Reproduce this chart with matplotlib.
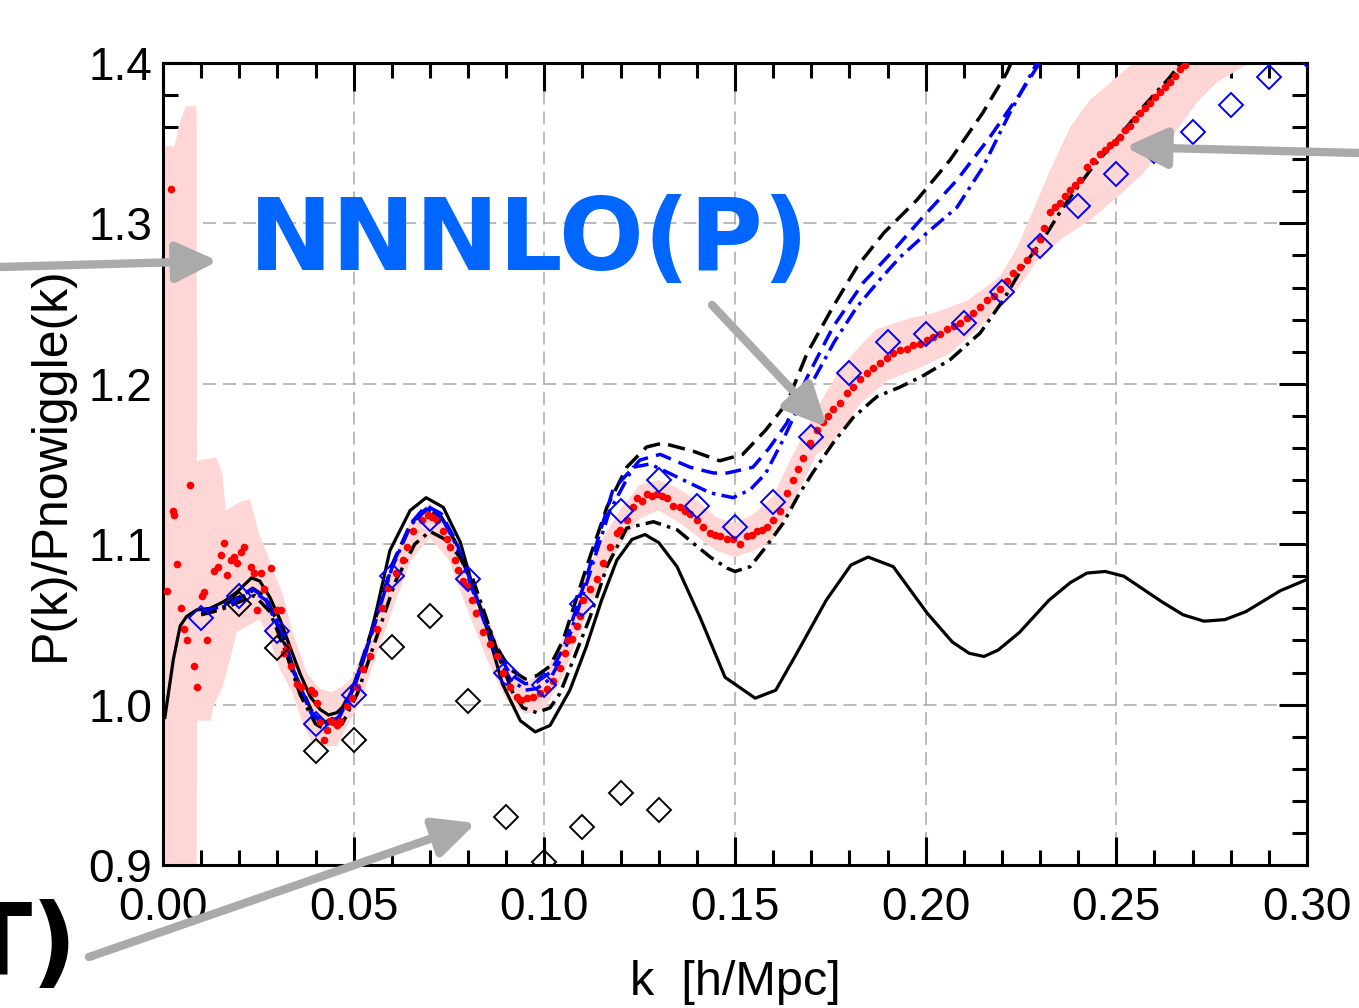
import numpy as np
import matplotlib
matplotlib.use("Agg")
import matplotlib.pyplot as plt
from matplotlib.patches import FancyArrowPatch

# ---- data (k [h/Mpc], P/Pnowiggle) ----
# linear theory (black solid)
linear = np.array([
    [0.0005, 0.992], [0.0027, 1.028], [0.0045, 1.049], [0.0062, 1.055], [0.0088, 1.059],
    [0.0123, 1.060], [0.0158, 1.064], [0.0193, 1.070], [0.0232, 1.079], [0.0254, 1.077],
    [0.0280, 1.067], [0.0307, 1.053], [0.0333, 1.036], [0.0359, 1.0195], [0.0386, 1.005],
    [0.0412, 0.997], [0.0434, 0.9935], [0.0456, 0.995], [0.0482, 1.001], [0.0508, 1.015],
    [0.0534, 1.034], [0.0560, 1.059], [0.0595, 1.096], [0.0648, 1.121], [0.0690, 1.129],
    [0.0735, 1.123], [0.0780, 1.101], [0.0813, 1.073], [0.0840, 1.055], [0.0890, 1.013],
    [0.0937, 0.990], [0.0976, 0.983], [0.1015, 0.987], [0.1067, 1.009], [0.1110, 1.036],
    [0.1150, 1.065], [0.1190, 1.090], [0.1230, 1.103], [0.1264, 1.106], [0.1300, 1.101],
    [0.1348, 1.086], [0.1408, 1.0546], [0.1474, 1.017], [0.1553, 1.004], [0.1607, 1.009],
    [0.1662, 1.032], [0.1739, 1.065], [0.1804, 1.087], [0.1849, 1.092], [0.1915, 1.086],
    [0.2004, 1.057], [0.2070, 1.039], [0.2114, 1.032], [0.2153, 1.030], [0.2190, 1.034],
    [0.2246, 1.045], [0.2323, 1.065], [0.2379, 1.076], [0.2423, 1.082], [0.2471, 1.083],
    [0.2520, 1.080], [0.2620, 1.064], [0.2675, 1.056], [0.2730, 1.052], [0.2785, 1.053],
    [0.2840, 1.058], [0.2930, 1.071], [0.3000, 1.078]])

# black dashed (upper)
black_dash = np.array([
    [0.010, 1.058], [0.015, 1.061], [0.020, 1.067], [0.0235, 1.0725], [0.027, 1.067],
    [0.031, 1.046], [0.035, 1.017], [0.039, 0.996], [0.0425, 0.989], [0.046, 0.993],
    [0.050, 1.012], [0.055, 1.048], [0.060, 1.087], [0.065, 1.113], [0.069, 1.122],
    [0.073, 1.117], [0.077, 1.100], [0.082, 1.068], [0.087, 1.038], [0.091, 1.022],
    [0.095, 1.016], [0.098, 1.018], [0.1015, 1.024], [0.1049, 1.040], [0.1111, 1.086],
    [0.1164, 1.123], [0.1216, 1.148], [0.1268, 1.1606], [0.131, 1.163], [0.139, 1.158],
    [0.146, 1.152], [0.152, 1.156], [0.158, 1.171], [0.1636, 1.188], [0.1689, 1.219],
    [0.1757, 1.248], [0.182, 1.273], [0.189, 1.294], [0.1977, 1.3146], [0.2064, 1.3395],
    [0.215, 1.369], [0.2213, 1.394], [0.226, 1.420]])

# blue dashed
blue_dash = np.array([
    [0.010, 1.058], [0.015, 1.061], [0.020, 1.067], [0.0235, 1.072], [0.027, 1.066],
    [0.031, 1.045], [0.035, 1.016], [0.039, 0.995], [0.0425, 0.988], [0.046, 0.992],
    [0.050, 1.011], [0.055, 1.047], [0.060, 1.086], [0.065, 1.113], [0.069, 1.124],
    [0.073, 1.119], [0.077, 1.101], [0.082, 1.068], [0.087, 1.036], [0.091, 1.019],
    [0.095, 1.013], [0.098, 1.014], [0.1015, 1.020], [0.105, 1.035], [0.1111, 1.080],
    [0.118, 1.134], [0.1251, 1.1525], [0.1304, 1.156], [0.1382, 1.148], [0.1443, 1.1444],
    [0.148, 1.1444], [0.1547, 1.148], [0.159, 1.160], [0.1636, 1.1756], [0.1689, 1.204],
    [0.1757, 1.2354], [0.1836, 1.263], [0.1915, 1.283], [0.1993, 1.304], [0.2082, 1.327],
    [0.2169, 1.354], [0.2248, 1.381], [0.2292, 1.3975], [0.232, 1.410]])

# blue dash-dot
blue_dashdot = np.array([
    [0.010, 1.057], [0.015, 1.060], [0.020, 1.066], [0.0235, 1.071], [0.027, 1.065],
    [0.031, 1.044], [0.035, 1.015], [0.039, 0.994], [0.0425, 0.987], [0.046, 0.991],
    [0.050, 1.010], [0.055, 1.046], [0.060, 1.085], [0.065, 1.112], [0.069, 1.122],
    [0.073, 1.117], [0.077, 1.099], [0.082, 1.066], [0.087, 1.034], [0.091, 1.016],
    [0.095, 1.009], [0.098, 1.010], [0.1015, 1.016], [0.105, 1.031], [0.111, 1.075],
    [0.117, 1.120], [0.1233, 1.148], [0.1277, 1.150], [0.133, 1.144], [0.1382, 1.138],
    [0.1435, 1.132], [0.1495, 1.129], [0.154, 1.134], [0.158, 1.144], [0.1626, 1.165],
    [0.1663, 1.184], [0.1705, 1.202], [0.1760, 1.226], [0.1820, 1.248], [0.1880, 1.265],
    [0.1933, 1.279], [0.2003, 1.294], [0.2082, 1.310], [0.215, 1.335], [0.2221, 1.369],
    [0.2282, 1.3956], [0.231, 1.410]])

# black dash-dot (lower)
black_dashdot = np.array([
    [0.010, 1.056], [0.015, 1.059], [0.020, 1.064], [0.024, 1.068], [0.028, 1.058],
    [0.032, 1.034], [0.036, 1.006], [0.040, 0.988], [0.0435, 0.983], [0.047, 0.988],
    [0.051, 1.007], [0.056, 1.042], [0.061, 1.077], [0.066, 1.100], [0.070, 1.108],
    [0.074, 1.103], [0.0775, 1.093], [0.0813, 1.078], [0.0849, 1.053], [0.0884, 1.028],
    [0.0918, 1.007], [0.0944, 0.998], [0.098, 0.995], [0.1015, 0.998], [0.1041, 1.007],
    [0.1076, 1.028], [0.112, 1.0546], [0.1164, 1.086], [0.1216, 1.110], [0.1286, 1.114],
    [0.1348, 1.109], [0.139, 1.1007], [0.1435, 1.092], [0.148, 1.085], [0.150, 1.083],
    [0.154, 1.086], [0.158, 1.098], [0.1626, 1.113], [0.1665, 1.130], [0.1705, 1.145],
    [0.1757, 1.163], [0.181, 1.179], [0.1872, 1.192], [0.1933, 1.198], [0.1993, 1.205],
    [0.2064, 1.215], [0.2143, 1.2317], [0.2203, 1.252], [0.2255, 1.273], [0.2308, 1.290],
    [0.236, 1.310], [0.2431, 1.333], [0.250, 1.352], [0.257, 1.3726], [0.264, 1.391],
    [0.2675, 1.402], [0.272, 1.420]])

# simulation points (red dots)
sim = np.array([
    [0.0011, 1.071], [0.0020, 1.3216], [0.0027, 1.121], [0.0029, 1.1185], [0.0037, 1.0877],
    [0.0046, 1.060], [0.0055, 1.047], [0.0064, 1.040], [0.0072, 1.137], [0.0081, 1.024],
    [0.0090, 1.011], [0.0101, 1.068], [0.0108, 1.070], [0.0116, 1.040], [0.0134, 1.083],
    [0.0143, 1.086], [0.0151, 1.093], [0.0160, 1.101], [0.0169, 1.081], [0.0178, 1.090],
    [0.0186, 1.092], [0.0195, 1.088], [0.0204, 1.095], [0.0212, 1.098], [0.0230, 1.086],
    [0.0238, 1.082], [0.0247, 1.059], [0.0256, 1.082], [0.0265, 1.072], [0.0282, 1.085],
    [0.0300, 1.059], [0.0309, 1.059], [0.0317, 1.032], [0.0325, 1.036], [0.0335, 1.024],
    [0.0352, 1.013], [0.0361, 1.011], [0.0387, 1.009], [0.0396, 1.007], [0.0405, 1.001],
    [0.0412, 0.989], [0.0422, 0.978], [0.0430, 0.984], [0.0438, 0.990], [0.0446, 0.989],
    [0.0455, 0.987], [0.0464, 0.990], [0.0482, 0.999], [0.0495, 1.004], [0.0508, 1.011],
    [0.0525, 1.022], [0.0543, 1.030], [0.0560, 1.047], [0.0575, 1.060], [0.0590, 1.073],
    [0.0610, 1.082], [0.0630, 1.090], [0.0640, 1.098], [0.0656, 1.108], [0.0680, 1.115],
    [0.0695, 1.118], [0.0705, 1.117], [0.0718, 1.115], [0.0735, 1.108], [0.0744, 1.103],
    [0.0753, 1.098], [0.0765, 1.090], [0.0774, 1.084], [0.0787, 1.077], [0.0796, 1.074],
    [0.0810, 1.065], [0.0822, 1.057], [0.0840, 1.045], [0.0858, 1.038], [0.0875, 1.030],
    [0.0892, 1.020], [0.0910, 1.011], [0.0928, 1.005], [0.0940, 1.003], [0.0954, 1.004],
    [0.0970, 1.005], [0.0989, 1.007], [0.1006, 1.010], [0.1023, 1.015], [0.1041, 1.023],
    [0.1054, 1.032], [0.1063, 1.040], [0.1072, 1.041], [0.1085, 1.049], [0.1094, 1.055],
    [0.1102, 1.065], [0.1120, 1.072], [0.1137, 1.078], [0.1154, 1.088], [0.1172, 1.098],
    [0.1190, 1.107], [0.1199, 1.109], [0.1216, 1.115], [0.1233, 1.123], [0.1242, 1.129],
    [0.1255, 1.127], [0.1268, 1.131], [0.1282, 1.130], [0.1295, 1.131], [0.1308, 1.130],
    [0.1321, 1.129], [0.1338, 1.124], [0.1356, 1.123], [0.1370, 1.121], [0.1382, 1.119],
    [0.1400, 1.115], [0.1416, 1.111], [0.1435, 1.107], [0.1448, 1.106], [0.1460, 1.105],
    [0.1478, 1.103], [0.1495, 1.103], [0.1513, 1.100], [0.1531, 1.105], [0.1545, 1.106],
    [0.1557, 1.108], [0.1570, 1.109], [0.1583, 1.111], [0.1600, 1.115], [0.1618, 1.121],
    [0.1636, 1.132], [0.1653, 1.140], [0.1665, 1.147], [0.1679, 1.154], [0.1697, 1.163],
    [0.1714, 1.171], [0.1731, 1.176], [0.1745, 1.180], [0.1757, 1.184], [0.1775, 1.188],
    [0.1793, 1.194], [0.1810, 1.198], [0.1828, 1.203], [0.1846, 1.207], [0.1863, 1.210],
    [0.1880, 1.213], [0.1898, 1.216], [0.1915, 1.219], [0.1933, 1.221], [0.1950, 1.222],
    [0.1968, 1.224], [0.1985, 1.225], [0.2003, 1.227], [0.2020, 1.229], [0.2038, 1.231],
    [0.2056, 1.234], [0.2073, 1.236], [0.2090, 1.238], [0.2108, 1.241], [0.2125, 1.244],
    [0.2143, 1.248], [0.2160, 1.252], [0.2178, 1.255], [0.2195, 1.259], [0.2213, 1.264],
    [0.2230, 1.269], [0.2248, 1.273], [0.2266, 1.277], [0.2283, 1.283], [0.2300, 1.290],
    [0.2310, 1.297], [0.2326, 1.307], [0.2340, 1.310], [0.2353, 1.313], [0.2366, 1.317],
    [0.2379, 1.321], [0.2392, 1.324], [0.2405, 1.327], [0.2423, 1.335], [0.2440, 1.339],
    [0.2457, 1.343], [0.2470, 1.346], [0.2484, 1.349], [0.2497, 1.351], [0.2510, 1.354],
    [0.2523, 1.358], [0.2536, 1.361], [0.2549, 1.365], [0.2562, 1.369], [0.2575, 1.372],
    [0.2589, 1.375], [0.2602, 1.379], [0.2615, 1.382], [0.2628, 1.385], [0.2640, 1.388],
    [0.2654, 1.392], [0.2667, 1.396], [0.2680, 1.399]])

# simulation error band (pink), upper and lower edges
band_hi = np.array([
    [0.0, 1.348], [0.0030, 1.348], [0.0048, 1.366], [0.0060, 1.373], [0.0088, 1.373],
    [0.0089, 1.152], [0.0140, 1.154], [0.0155, 1.145], [0.0165, 1.121], [0.0200, 1.126],
    [0.0228, 1.128], [0.0254, 1.105], [0.0280, 1.090], [0.0315, 1.068], [0.0340, 1.045],
    [0.0377, 1.020], [0.0410, 1.010], [0.0440, 1.008], [0.0470, 1.011], [0.0500, 1.018],
    [0.0550, 1.052], [0.0600, 1.088], [0.0650, 1.115], [0.0700, 1.126], [0.0750, 1.112],
    [0.0800, 1.085], [0.0850, 1.055], [0.0900, 1.026], [0.0950, 1.014], [0.1000, 1.020],
    [0.1050, 1.042], [0.1100, 1.078], [0.1150, 1.102], [0.1200, 1.122], [0.1250, 1.137],
    [0.1300, 1.140], [0.1350, 1.135], [0.1400, 1.127], [0.1450, 1.117], [0.1500, 1.113],
    [0.1550, 1.119], [0.1600, 1.130], [0.1650, 1.155], [0.1714, 1.184], [0.1757, 1.202],
    [0.1810, 1.219], [0.1870, 1.234], [0.1960, 1.241], [0.2020, 1.244], [0.2110, 1.252],
    [0.2195, 1.267], [0.2240, 1.285], [0.2274, 1.304], [0.2326, 1.333], [0.2379, 1.360],
    [0.2431, 1.377], [0.2500, 1.391], [0.2545, 1.400], [0.2600, 1.415], [0.2700, 1.440],
    [0.2900, 1.480]])
band_lo = np.array([
    [0.0, 0.880], [0.0088, 0.880], [0.0089, 0.990], [0.0125, 0.990], [0.0132, 0.999],
    [0.0155, 1.010], [0.0176, 1.028], [0.0193, 1.045], [0.0237, 1.051], [0.0254, 1.053],
    [0.0280, 1.040], [0.0307, 1.022], [0.0340, 1.007], [0.0367, 0.988], [0.0390, 0.977],
    [0.0430, 0.974], [0.0456, 0.974], [0.0490, 0.990], [0.0520, 1.003], [0.0550, 1.024],
    [0.0600, 1.058], [0.0650, 1.090], [0.0700, 1.104], [0.0750, 1.090], [0.0800, 1.058],
    [0.0850, 1.028], [0.0900, 1.003], [0.0950, 0.994], [0.1000, 0.997], [0.1050, 1.018],
    [0.1100, 1.050], [0.1150, 1.078], [0.1200, 1.100], [0.1250, 1.116], [0.1300, 1.121],
    [0.1350, 1.114], [0.1400, 1.105], [0.1450, 1.096], [0.1500, 1.092], [0.1550, 1.096],
    [0.1600, 1.103], [0.1650, 1.125], [0.1714, 1.156], [0.1757, 1.163], [0.1830, 1.188],
    [0.1900, 1.202], [0.1985, 1.210], [0.2064, 1.219], [0.2150, 1.237], [0.2240, 1.259],
    [0.2300, 1.279], [0.2360, 1.291], [0.2431, 1.302], [0.2500, 1.316], [0.2570, 1.331],
    [0.2640, 1.352], [0.2710, 1.375], [0.2764, 1.388], [0.2850, 1.400], [0.2900, 1.410]])

# open diamonds
blue_dia = np.array([
    [0.01, 1.054], [0.02, 1.068], [0.03, 1.046], [0.04, 0.988], [0.05, 1.006],
    [0.06, 1.080], [0.07, 1.116], [0.08, 1.078], [0.09, 1.020], [0.10, 1.012],
    [0.11, 1.063], [0.12, 1.121], [0.13, 1.140], [0.14, 1.124], [0.15, 1.111],
    [0.16, 1.126], [0.17, 1.167], [0.18, 1.207], [0.19, 1.226], [0.20, 1.231],
    [0.21, 1.238], [0.22, 1.257], [0.23, 1.286], [0.24, 1.311], [0.25, 1.331],
    [0.26, 1.345], [0.27, 1.357], [0.28, 1.374], [0.29, 1.391], [0.30, 1.405]])
black_dia = np.array([
    [0.02, 1.063], [0.03, 1.035], [0.04, 0.971], [0.05, 0.978], [0.06, 1.036],
    [0.07, 1.055], [0.08, 1.002], [0.09, 0.930], [0.10, 0.902], [0.11, 0.924],
    [0.12, 0.945], [0.13, 0.934]])

xticks = [0.00, 0.05, 0.10, 0.15, 0.20, 0.25, 0.30]
xticklabels = ["0.00", "0.05", "0.10", "0.15", "0.20", "0.25", "0.30"]
yticks = [0.9, 1.0, 1.1, 1.2, 1.3, 1.4]
yticklabels = ["0.9", "1.0", "1.1", "1.2", "1.3", "1.4"]

W, H = 1359, 1008
plt.rcParams["font.family"] = ["Liberation Sans", "DejaVu Sans"]

fig = plt.figure(figsize=(W / 100, H / 100), dpi=100)
ax = fig.add_axes([163 / W, 1 - 865 / H, 1144 / W, 802 / H])

def fpx(x, y):
    return (x / W, 1 - y / H)

# band
ax.fill(np.r_[band_hi[:, 0], band_lo[::-1, 0]], np.r_[band_hi[:, 1], band_lo[::-1, 1]],
        color="#ffd6d6", lw=0, zorder=1)

ax.plot(linear[:, 0], linear[:, 1], color="black", lw=2.3, zorder=3)
ax.plot(black_dash[:, 0], black_dash[:, 1], color="black", lw=2.5, ls=(0, (5.0, 2.4)), zorder=3)
ax.plot(blue_dash[:, 0], blue_dash[:, 1], color="#0000ff", lw=2.5, ls=(0, (4.6, 2.4)), zorder=3)
ax.plot(blue_dashdot[:, 0], blue_dashdot[:, 1], color="#0000ff", lw=2.5,
        ls=(0, (4.6, 1.8, 1.0, 1.8)), zorder=3)
ax.plot(black_dashdot[:, 0], black_dashdot[:, 1], color="black", lw=2.5,
        ls=(0, (4.6, 1.8, 1.0, 1.8)), zorder=3)

ax.plot(sim[:, 0], sim[:, 1], "o", color="#ff0000", ms=5.5, mew=0, zorder=4)
ax.plot(blue_dia[:, 0], blue_dia[:, 1], "D", mfc="none", mec="#0000ff", ms=12, mew=1.4, zorder=5)
ax.plot(black_dia[:, 0], black_dia[:, 1], "D", mfc="none", mec="black", ms=12, mew=1.4, zorder=5)

ax.set_xlim(0, 0.30)
ax.set_ylim(0.9, 1.4)
ax.set_xticks(xticks)
ax.set_xticklabels(xticklabels)
ax.set_yticks(yticks)
ax.set_yticklabels(yticklabels)
ax.set_xticks(np.arange(0, 0.3001, 0.01), minor=True)
ax.set_yticks(np.arange(0.9, 1.4001, 0.02), minor=True)
ax.tick_params(which="both", direction="in", top=True, right=True, labelsize=33, width=2.2)
ax.tick_params(axis="x", which="major", length=20, pad=15)
ax.tick_params(axis="y", which="major", length=20, pad=8)
ax.tick_params(which="minor", length=11)
for s in ax.spines.values():
    s.set_linewidth(2.2)
ax.set_axisbelow(True)
ax.grid(True, which="major", color="#a8a8a8", lw=1.1, ls=(0, (8.5, 4.6)))

ax.set_xlabel("k  [h/Mpc]", fontsize=35, labelpad=22)
ax.set_ylabel("P(k)/Pnowiggle(k)", fontsize=36, labelpad=10)

# annotations
fig.text(*fpx(249, 270), "NNNLO(P)", color="#0066ff", fontsize=72, fontweight="bold",
         family="DejaVu Sans", ha="left", va="baseline")
fig.text(*fpx(78, 975), "T)", color="black", fontsize=72, fontweight="bold",
         family="DejaVu Sans", ha="right", va="baseline")

arrows = [((0, 267), (218, 261)), ((712, 305), (827, 427)),
          ((1359, 153), (1125, 147)), ((89, 957), (476, 823))]
for a, b in arrows:
    fig.add_artist(FancyArrowPatch(fpx(*a), fpx(*b), transform=fig.transFigure,
                                   arrowstyle="-|>,head_length=1.25,head_width=0.6",
                                   mutation_scale=20, lw=6, color="#aaaaaa",
                                   shrinkA=0, shrinkB=0, zorder=10))

fig.savefig("out.png", dpi=100)
